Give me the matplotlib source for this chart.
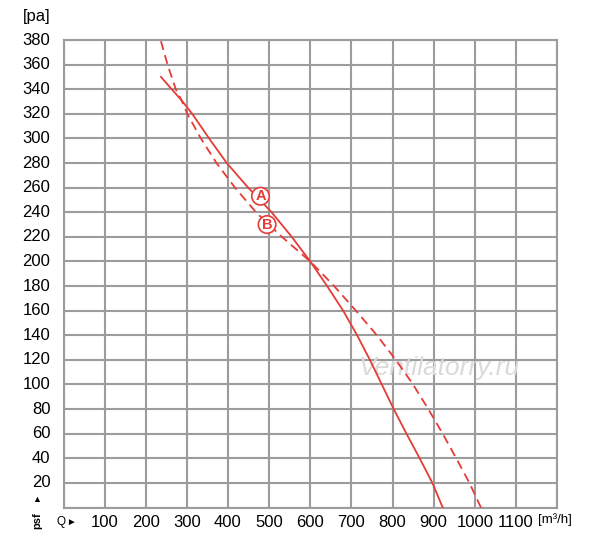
import numpy as np
import matplotlib
matplotlib.use("Agg")
from matplotlib import pyplot as plt

plt.rcParams['font.family'] = ['Liberation Sans', 'DejaVu Sans']

# curve A (solid) and B (dashed)
p_a = [350, 340, 331, 320, 300, 280, 260, 240, 220, 200, 180, 160, 140, 120, 100, 80, 60, 40, 20, 0]
q_a = [237, 263, 287, 313, 354, 397, 449, 506, 555, 600, 641, 680, 714, 745, 774, 803, 834, 866, 897, 922]
p_b = [379, 360, 340, 331, 320, 300, 280, 260, 240, 220, 200, 180, 160, 140, 120, 100, 80, 60, 40, 20, 0]
q_b = [237, 253, 273, 287, 301, 334, 372, 417, 468, 531, 600, 658, 711, 762, 808, 850, 887, 922, 955, 987, 1015]

x_ticks = list(range(100, 1200, 100))
y_ticks = list(range(20, 400, 20))

red = '#e63b36'
grid = '#9c9c9c'

fig = plt.figure(figsize=(6, 5.43), dpi=100)
ax = fig.add_axes([63.5/600, 35.5/543, 493.5/600, 467.5/543])
ax.set_xlim(0, 1200)
ax.set_ylim(0, 380)

ax.set_xticks(range(0, 1300, 100))
ax.set_yticks(range(0, 400, 20))
ax.grid(True, color=grid, lw=1.5)
ax.tick_params(length=0, labelbottom=False, labelleft=False)
for s in ax.spines.values():
    s.set_color(grid)
    s.set_linewidth(1.5)

ax.plot(q_a, p_a, color=red, lw=1.3, zorder=3)
ax.plot(q_b, p_b, color=red, lw=1.3, ls=(0, (5, 3)), zorder=3)

for lab, q, p in [('A', 479, 253), ('B', 495, 230)]:
    ax.text(q, p, lab, color=red, fontsize=10.5, fontweight='bold', ha='center', va='center',
            zorder=4, bbox=dict(boxstyle='circle,pad=0.12', fc='white', ec=red, lw=1.2))

# watermark
ax.text(913, 113, 'Ventilatorry.ru', fontsize=19, style='italic', color='#dadada',
        ha='center', va='center', zorder=2)

fs = 12
for v in x_ticks:
    ax.text(v, -12, str(v), fontsize=fs, ha='center', va='center', clip_on=False)
for v in y_ticks:
    ax.text(-32, v, str(v), fontsize=fs, ha='right', va='center', clip_on=False)

fig.text(50/600, 1 - 17/543, '[pa]', fontsize=fs, ha='right', va='center')
fig.text(37/600, 1 - 500/543, '\u25b2', fontsize=6.5, ha='center', va='center')
fig.text(37/600, 1 - 521/543, 'psf', fontsize=8, fontweight='bold', ha='center', va='center', rotation=90)
fig.text(61/600, 1 - 522/543, 'Q', fontsize=8.5, ha='center', va='center')
fig.text(71/600, 1 - 522/543, '\u25ba', fontsize=7, ha='center', va='center')
fig.text(538/600, 1 - 520/543, '[m\u00b3/h]', fontsize=9.5, ha='left', va='center')

fig.savefig('out.png', dpi=100, facecolor='white')
